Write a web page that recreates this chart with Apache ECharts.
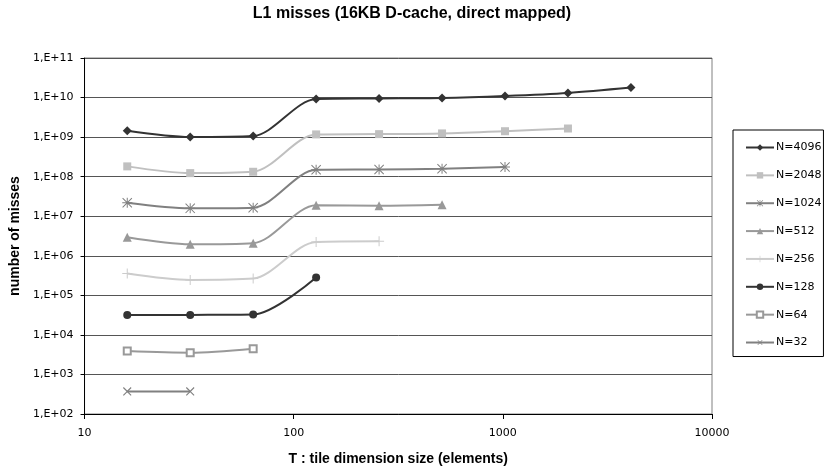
<!DOCTYPE html>
<html>
<head>
<meta charset="utf-8">
<script src="https://cdn.jsdelivr.net/npm/echarts@6/dist/echarts.min.js"></script>
<style>html,body{margin:0;padding:0;background:#fff}#c{width:824px;height:472px}</style>
</head>
<body>
<div id="c"></div>
<script>
const tileSizes = [16, 32, 64, 128, 256, 512, 1024, 2048, 4096];
const seriesNames = ['N=4096', 'N=2048', 'N=1024', 'N=512', 'N=256', 'N=128', 'N=64', 'N=32'];
const n4096 = [1.44e9, 1.0e9, 1.06e9, 9.2e9, 9.5e9, 9.8e9, 1.1e10, 1.31e10, 1.79e10];
const n2048 = [1.82e8, 1.23e8, 1.33e8, 1.17e9, 1.19e9, 1.24e9, 1.41e9, 1.65e9];
const n1024 = [2.19e7, 1.58e7, 1.64e7, 1.49e8, 1.52e8, 1.58e8, 1.75e8];
const n512 = [2.94e6, 1.95e6, 2.07e6, 1.89e7, 1.84e7, 1.95e7];
const n256 = [3.55e5, 2.45e5, 2.65e5, 2.24e6, 2.33e6];
const n128 = [3.16e4, 3.2e4, 3.27e4, 2.82e5];
const n64 = [3.9e3, 3.55e3, 4.47e3];
const n32 = [373, 373];
const xTicks = [10, 100, 1000, 10000];

const seriesValues = [n4096, n2048, n1024, n512, n256, n128, n64, n32];

const plusPath = 'path://M9,0h2v9h9v2h-9v9h-2v-9h-9v-2h9z';
const starPath = 'path://M9,0h2v9h9v2h-9v9h-2v-9h-9v-2h9z M1.4,0L20,18.6L18.6,20L0,1.4z M20,1.4L1.4,20L0,18.6L18.6,0z';

const styles = [
  {color: '#333333', symbol: 'diamond', size: 9},
  {color: '#c0c0c0', symbol: 'rect', size: 8},
  {color: '#808080', symbol: starPath, size: 10},
  {color: '#999999', symbol: 'triangle', size: 9},
  {color: '#cccccc', symbol: plusPath, size: 10},
  {color: '#333333', symbol: 'circle', size: 8},
  {color: '#999999', symbol: 'emptyRect', size: 7},
  {color: '#808080', symbol: plusPath, size: 11, rotate: 45}
];

const series = seriesNames.map((name, i) => ({
  name: name,
  type: 'line',
  smooth: 0.3,
  data: seriesValues[i].map((v, j) => [tileSizes[j], v]),
  symbol: styles[i].symbol,
  symbolSize: styles[i].size,
  symbolRotate: styles[i].rotate || 0,
  lineStyle: {color: styles[i].color, width: 2},
  itemStyle: {color: styles[i].color, borderColor: styles[i].color, borderWidth: styles[i].symbol === 'emptyRect' ? 1 : 0},
  showAllSymbol: true,
  animation: false,
  z: 2 + i
}));

const chart = echarts.init(document.getElementById('c'), null, {renderer: 'canvas'});
chart.setOption({
  backgroundColor: '#ffffff',
  animation: false,
  title: {
    text: 'L1 misses (16KB D-cache, direct mapped)',
    left: 'center',
    top: 6,
    padding: 0,
    textStyle: {fontFamily: 'Liberation Sans', fontWeight: 'bold', fontSize: 16, color: '#000'}
  },
  grid: {
    left: 84, right: 112, top: 58, bottom: 58,
    show: true, borderColor: '#808080', borderWidth: 1, containLabel: false
  },
  legend: {
    orient: 'vertical',
    left: 733,
    top: 130,
    padding: [12, 2, 8.5, 12],
    itemWidth: 28,
    itemHeight: 8,
    itemGap: 16.86,
    borderColor: '#000',
    borderWidth: 1,
    borderRadius: 0,
    backgroundColor: '#fff',
    data: seriesNames,
    textStyle: {fontFamily: 'DejaVu Sans', fontSize: 11, color: '#000', padding: [0, 0, 0, -3]}
  },
  xAxis: {
    type: 'log',
    logBase: 10,
    min: 10,
    max: 10000,
    name: 'T : tile dimension size (elements)',
    nameLocation: 'middle',
    nameGap: 38,
    nameTextStyle: {fontFamily: 'Liberation Sans', fontWeight: 'bold', fontSize: 14, color: '#000'},
    axisLine: {show: true, lineStyle: {color: '#000', width: 1}},
    axisTick: {show: true, length: 5, lineStyle: {color: '#000'}},
    minorTick: {show: false},
    splitLine: {show: false},
    axisLabel: {
      fontFamily: 'DejaVu Sans', fontSize: 11, color: '#000', margin: 14,
      formatter: v => String(Math.round(v))
    }
  },
  yAxis: {
    type: 'log',
    logBase: 10,
    min: 1e2,
    max: 1e11,
    name: 'number of misses',
    nameLocation: 'middle',
    nameGap: 60,
    nameTextStyle: {fontFamily: 'Liberation Sans', fontWeight: 'bold', fontSize: 14, color: '#000'},
    axisLine: {show: true, lineStyle: {color: '#000', width: 1}},
    axisTick: {show: true, length: 4, lineStyle: {color: '#000'}},
    splitLine: {show: true, lineStyle: {color: '#555555', width: 1}},
    axisLabel: {
      fontFamily: 'DejaVu Sans', fontSize: 11, color: '#000', margin: 11,
      formatter: v => {
        const e = Math.round(Math.log10(v));
        return '1,E+' + (e < 10 ? '0' + e : String(e));
      }
    }
  },
  series: series
});
</script>
</body>
</html>
